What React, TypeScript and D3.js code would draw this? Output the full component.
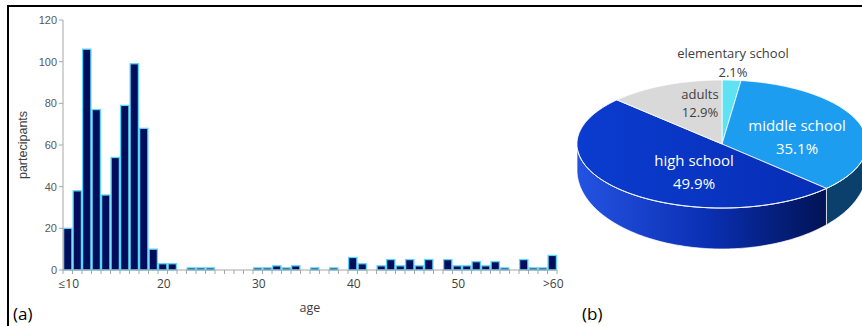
import React from 'react';
import * as d3 from 'd3';

// histogram: participants per age (first bar "≤10", last bar ">60")
const ageCategories = ['≤10', ...d3.range(11, 61).map(String), '>60'];
const participants = [
  20, 38, 106, 77, 36, 54, 79, 99, 68, 10, 3, 3, 0, 1, 1, 1, 0, 0, 0, 0,
  1, 1, 2, 1, 2, 0, 1, 0, 1, 0, 6, 3, 0, 2, 5, 2, 5, 2, 5, 0,
  5, 2, 2, 4, 2, 4, 1, 0, 5, 1, 1, 7,
];
const yTicks = [0, 20, 40, 60, 80, 100, 120];
const xTickLabels = ['≤10', '20', '30', '40', '50', '>60'];
const xTickIndex = [0, 10, 20, 30, 41, 51];

// pie: school level
const pieLabels = ['elementary school', 'middle school', 'high school', 'adults'];
const pieValues = [2.1, 35.1, 49.9, 12.9];
const pieTop = ['#5fe3f3', '#1c9df0', 'url(#hsTop)', '#d9d9d9'];
const pieSide = ['#2a9bb0', '#0b3f6c', 'url(#hsSide)', '#9a9a9a'];

const W = 862, H = 326;
const m = {left: 63, top: 20, right: 557, bottom: 270};

const x = d3.scaleBand<string>().domain(ageCategories).range([m.left, m.right]).padding(0);
const y = d3.scaleLinear().domain([0, 120]).range([m.bottom, m.top]);

const cx = 722, cy = 144, rx = 145, ry = 64, dSide = 26, dFront = 41;
const topPt = (a: number) => [cx + rx * Math.sin(a), cy - ry * Math.cos(a)] as [number, number];
const botPt = (a: number) => [cx + rx * Math.sin(a), cy + dSide - (ry + dFront - dSide) * Math.cos(a)] as [number, number];
const steps = (a0: number, a1: number) => {
  const n = Math.max(2, Math.ceil(Math.abs(a1 - a0) / 0.02));
  return d3.range(n + 1).map(i => a0 + (a1 - a0) * i / n);
};
const line = d3.line();

export default function App() {
  const arcs = d3.pie<number>().sort(null).value(d => d)(pieValues);
  const gray = '#a6a6a6';

  return (
    <svg width={W} height={H} style={{display: 'block', position: 'absolute', left: 0, top: 0}}>
      <defs>
        <linearGradient id="hsTop" gradientUnits="userSpaceOnUse" x1={577} y1={0} x2={840} y2={0}>
          <stop offset="0" stopColor="#0b3ccf"/>
          <stop offset="1" stopColor="#062db4"/>
        </linearGradient>
        <linearGradient id="hsSide" gradientUnits="userSpaceOnUse" x1={577} y1={0} x2={840} y2={0}>
          <stop offset="0" stopColor="#2453e2"/>
          <stop offset="0.5" stopColor="#0a2fb2"/>
          <stop offset="1" stopColor="#00104a"/>
        </linearGradient>
      </defs>
      <rect width={W} height={H} fill="#fff"/>
      <line x1={8} y1={6} x2={W} y2={6} stroke="#000" strokeWidth={2}/>
      <line x1={8} y1={5} x2={8} y2={H} stroke="#000" strokeWidth={2}/>

      {/* histogram */}
      <g>
        {participants.map((v, i) => (
          <rect key={i} x={x(ageCategories[i])! + 0.6} width={x.bandwidth() - 1.2}
                y={y(v)} height={m.bottom - y(v)}
                fill="#000c5c" stroke="#5cd6f6" strokeWidth={1.3}/>
        ))}
        <line x1={m.left} y1={m.top} x2={m.left} y2={m.bottom} stroke={gray}/>
        <line x1={m.left} y1={m.bottom} x2={m.right} y2={m.bottom} stroke={gray}/>
        {yTicks.map(t => (
          <g key={t}>
            <line x1={m.left - 4} x2={m.left} y1={y(t)} y2={y(t)} stroke={gray}/>
            <text x={m.left - 6} y={y(t)} dy="0.35em" textAnchor="end" fontSize={11}
                  fontFamily="Liberation Sans, Arial" fill="#595959">{t}</text>
          </g>
        ))}
        {ageCategories.map(c => (
          <line key={c} x1={x(c)!} x2={x(c)!} y1={m.bottom} y2={m.bottom + 4} stroke={gray}/>
        ))}
        <line x1={m.right} x2={m.right} y1={m.bottom} y2={m.bottom + 4} stroke={gray}/>
        {xTickLabels.map((l, i) => (
          <text key={l} x={x(ageCategories[xTickIndex[i]])! + x.bandwidth() / 2 + 1} y={288}
                textAnchor="middle" fontSize={12} fontFamily="Open Sans" fill="#404040">{l}</text>
        ))}
        <text x={310} y={312} textAnchor="middle" fontSize={12.5} fontFamily="Open Sans" fill="#404040">age</text>
        <text transform="translate(27,145) rotate(-90)" textAnchor="middle" fontSize={12.5}
              fontFamily="Liberation Sans, Arial" fill="#404040">partecipants</text>
        <text x={13} y={320} fontSize={17} fontFamily="Open Sans" fill="#000">(a)</text>
      </g>

      {/* 3D pie */}
      <g>
        {arcs.map((a, i) => {
          const a0 = Math.max(a.startAngle, Math.PI / 2), a1 = Math.min(a.endAngle, 3 * Math.PI / 2);
          if (a1 <= a0) return null;
          const pts = [...steps(a0, a1).map(topPt), ...steps(a1, a0).map(botPt)];
          return <path key={'s' + i} d={line(pts)! + 'Z'} fill={pieSide[i]} stroke="#fff" strokeWidth={0.7}/>;
        })}
        {arcs.map((a, i) => {
          const pts = [[cx, cy] as [number, number], ...steps(a.startAngle, a.endAngle).map(topPt)];
          return <path key={'t' + i} d={line(pts)! + 'Z'} fill={pieTop[i]} stroke="#fff" strokeWidth={0.8}/>;
        })}
        <path d={line(steps(Math.PI / 2 + 0.1, 3 * Math.PI / 2 - 0.1).map(topPt))!} fill="none" stroke="#fff" strokeWidth={0.9} opacity={0.8}/>

        <text x={733} y={58} textAnchor="middle" fontSize={13} fontFamily="Open Sans" fill="#404040">{pieLabels[0]}</text>
        <text x={733} y={77} textAnchor="middle" fontSize={13} fontFamily="Open Sans" fill="#404040">{pieValues[0].toFixed(1)}%</text>
        <text x={700} y={99} textAnchor="middle" fontSize={13} fontFamily="Open Sans" fill="#404040">{pieLabels[3]}</text>
        <text x={700} y={117} textAnchor="middle" fontSize={13} fontFamily="Open Sans" fill="#404040">{pieValues[3].toFixed(1)}%</text>
        <text x={797} y={131} textAnchor="middle" fontSize={15} fontFamily="Open Sans" fill="#fff">{pieLabels[1]}</text>
        <text x={797} y={154} textAnchor="middle" fontSize={15} fontFamily="Open Sans" fill="#fff">{pieValues[1].toFixed(1)}%</text>
        <text x={694} y={166} textAnchor="middle" fontSize={15} fontFamily="Open Sans" fill="#fff">{pieLabels[2]}</text>
        <text x={694} y={189} textAnchor="middle" fontSize={15} fontFamily="Open Sans" fill="#fff">{pieValues[2].toFixed(1)}%</text>
        <text x={582} y={320} fontSize={17} fontFamily="Open Sans" fill="#000">(b)</text>
      </g>
    </svg>
  );
}
